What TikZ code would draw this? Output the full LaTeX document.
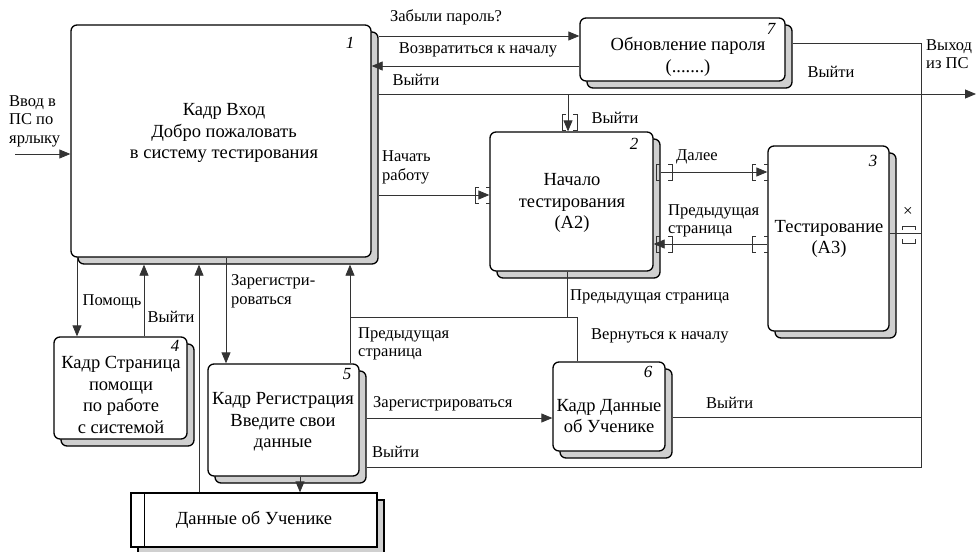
\documentclass[tikz,border=0pt]{standalone}
\usepackage{fontspec}
\setmainfont{Liberation Serif}
\usetikzlibrary{arrows.meta,calc}
\definecolor{backplate}{HTML}{D0D0D0}

% activity box: offset grey copy first, then the white box itself
% #1 name, #2 centre x, #3 centre y, #4 width, #5 height
\newcommand\actbox[5]{%
  \draw[backcopy, rounded corners=6pt]
    ({#2-#4/2+7},{#3-#5/2+7}) rectangle ({#2+#4/2+7},{#3+#5/2+7});
  \node[blk, minimum width=#4pt, minimum height=#5pt] (#1) at (#2,#3) {};
}

\begin{document}
\begin{tikzpicture}[x=1pt,y=-1pt,
  blk/.style={draw=black, line width=1.3pt, fill=white, rounded corners=6pt, inner sep=0pt},
  store/.style={draw=black, line width=1.3pt, fill=white, inner sep=0pt},
  backcopy/.style={draw=black, line width=1.3pt, fill=backplate},
  boxtxt/.style={align=center, inner sep=0pt, font=\fontsize{18.5}{21.5}\selectfont},
  num/.style={inner sep=0pt, font=\fontsize{17}{17}\selectfont\itshape},
  lbl/.style={inner sep=0pt, align=left, font=\fontsize{16.5}{18.5}\selectfont},
  conn/.style={draw=black!80, line width=0.8pt},
  arr/.style={conn, -{Triangle[length=11pt,width=9pt]}},
  brk/.style={draw=black!80, line width=0.9pt},
]
\useasboundingbox (0,0) rectangle (976,551);

% ---------- activity boxes ----------
\actbox{b1}{221}{141}{300}{232}
\actbox{b2}{571.5}{201.5}{163}{139}
\actbox{b3}{828.5}{238.5}{121}{185}
\actbox{b4}{120.5}{388}{133}{102}
\actbox{b5}{283.5}{420}{151}{112}
\actbox{b6}{609}{406.5}{112}{89}
\actbox{b7}{682.5}{49.5}{205}{63}

% ---------- data store ----------
\draw[backcopy] (138,500) rectangle (384,554);
\node[store, minimum width=246pt, minimum height=54pt] (ds) at (254,520) {};
\draw[line width=1.3pt] ([xshift=14pt]ds.north west) -- ([xshift=14pt]ds.south west);

% corners of the offset copies
\foreach \b in {b1,b2,b3,b4,b5,b6,b7}{
  \coordinate (\b s) at ([xshift=7pt,yshift=-7pt]\b.south east);
}

% ---------- box texts ----------
\node[boxtxt] (t1) at (224,133) {Кадр Вход\\Добро пожаловать\\в систему тестирования};
\node[boxtxt] (t2) at (572,203) {Начало\\тестирования\\(А2)};
\node[boxtxt] (t3) at (829,239) {Тестирование\\(А3)};
\node[boxtxt] (t4) at (121,395) {Кадр Страница\\помощи\\по работе\\с системой};
\node[boxtxt] (t5) at (283,422) {Кадр Регистрация\\Введите свои\\данные};
\node[boxtxt] (t6) at (609,416) {Кадр Данные\\об Ученике};
\node[boxtxt] (t7) at (688,57) {Обновление пароля\\(.......)};
\node[boxtxt] (td) at (254,520) {Данные об Ученике};

% ---------- box numbers ----------
\node[num] (n1) at (350,43) {1};
\node[num] (n2) at (634,144) {2};
\node[num] (n3) at (873,161) {3};
\node[num] (n4) at (175,346) {4};
\node[num] (n5) at (347,374) {5};
\node[num] (n6) at (648,372) {6};
\node[num] (n7) at (771,29) {7};

% ---------- level / column helpers ----------
\coordinate (in) at (15,154);
\coordinate (yf) at (0,36);
\coordinate (yr) at (0,66);
\coordinate (xo) at (976,94);
\coordinate (xd) at (568,94);
\coordinate (ys) at (0,195);
\coordinate (yd) at (0,172);
\coordinate (yp) at (0,244);
\coordinate (y3) at (0,233);
\coordinate (y6) at (0,417);
\coordinate (yg) at (0,418);
\coordinate (rt) at (921,43);
\coordinate (rb) at (921,467);
\coordinate (jx) at (350,317);
\coordinate (j2) at (567,317);
\coordinate (j6) at (577,317);
\coordinate (xh) at (77,0);
\coordinate (xe) at (144,0);
\coordinate (xs) at (199,0);
\coordinate (xr) at (226,0);
\coordinate (xw) at (300,0);

% ---------- connectors ----------
\draw[arr] (in) -- (in -| b1.west);
\draw[arr] (b1s |- yf) -- (b7.west |- yf);
\draw[arr] (b7.west |- yr) -- (b1.east |- yr);
\draw[arr] (b1s |- xo) -- (xo);
\draw[arr] (xd) -- (xd |- b2.north);
\draw[arr] (b1s |- ys) -- (b2.west |- ys);
\draw[arr] (b2s |- yd) -- (b3.west |- yd);
\draw[arr] (b3.west |- yp) -- (b2.east |- yp);
\draw[conn] (b7s |- rt) -- (rt) -- (rb) -- (b5s |- rb);
\draw[conn] (b3.east |- y3) -- (rt |- y3);
\draw[conn] (b6s |- y6) -- (rt |- y6);
\draw[arr] (b5s |- yg) -- (b6.west |- yg);
\draw[arr] (b1.south -| xh) -- (b4.north -| xh);
\draw[arr] (b4.north -| xe) -- (b1s -| xe);
\draw[arr] (ds.north -| xs) -- (b1s -| xs);
\draw[arr] (b1.south -| xr) -- (b5.north -| xr);
\draw[arr] (b5.south -| xw) -- (ds.north -| xw);
\draw[arr] (b5.north -| jx) -- (b1s -| jx);
\draw[conn] (b2.south -| j2) -- (j2) -- (jx);
\draw[conn] (b6.north -| j6) -- (j6) -- (j2);

% ---------- tunnel brackets ----------
% above box 2
\draw[brk] (566,114) -- (562,114) -- (562,130) -- (566,130);
\draw[brk] (573,114) -- (577,114) -- (577,130) -- (573,130);
% entry into box 2
\draw[brk] (479,187) -- (475,187) -- (475,203) -- (479,203);
\draw[brk] (486,187) -- (490,187);
\draw[brk] (486,203) -- (490,203);
% "Далее" near box 2
\draw[brk] (660,164) -- (656,164) -- (656,180) -- (660,180);
\draw[brk] (668,164) -- (672,164) -- (672,180) -- (668,180);
% "Далее" at box 3
\draw[brk] (756,164) -- (752,164) -- (752,180) -- (756,180);
\draw[brk] (764,164) -- (768,164);
\draw[brk] (764,180) -- (768,180);
% "Предыдущая страница" near box 3
\draw[brk] (756,236) -- (752,236) -- (752,252) -- (756,252);
\draw[brk] (764,236) -- (768,236);
\draw[brk] (764,252) -- (768,252);
% "Предыдущая страница" at box 2
\draw[brk] (660,236) -- (656,236) -- (656,252) -- (660,252);
\draw[brk] (668,236) -- (672,236) -- (672,252) -- (668,252);
% exit of box 3
\draw[brk] (902,230) -- (902,226) -- (915,226) -- (915,230);
\draw[brk] (902,239) -- (902,243) -- (915,243) -- (915,239);
\node[lbl, font=\fontsize{17}{17}\selectfont] (xm) at (908,212) {×};

% ---------- connector labels ----------
\node[lbl, anchor=west] (l0) at (9,121) {Ввод в\\ПС по\\ярлыку};
\node[lbl] (l1) at (446,17) {Забыли пароль?};
\node[lbl] (l2) at (478,50) {Возвратиться к началу};
\node[lbl] (l3) at (416,80) {Выйти};
\node[lbl] (l4) at (615,118) {Выйти};
\node[lbl, anchor=west] (l5) at (382,167.5) {Начать\\работу};
\node[lbl] (l6) at (697,157) {Далее};
\node[lbl, anchor=west] (l7) at (668,221) {Предыдущая\\страница};
\node[lbl] (l8) at (831,72) {Выйти};
\node[lbl, anchor=west] (l9) at (926,54) {Выход\\из ПС};
\node[lbl] (l10) at (112,302) {Помощь};
\node[lbl] (l11) at (171,317) {Выйти};
\node[lbl, anchor=west] (l12) at (231,291.5) {Зарегистри-\\роваться};
\node[lbl, anchor=west] (l13) at (358,344) {Предыдущая\\страница};
\node[lbl, anchor=west] (l14) at (570,297) {Предыдущая страница};
\node[lbl, anchor=west] (l15) at (591,336) {Вернуться к началу};
\node[lbl, anchor=west] (l16) at (373,404) {Зарегистрироваться};
\node[lbl, anchor=west] (l17) at (372,452) {Выйти};
\node[lbl, anchor=west] (l18) at (706,403) {Выйти};
\end{tikzpicture}
\end{document}
